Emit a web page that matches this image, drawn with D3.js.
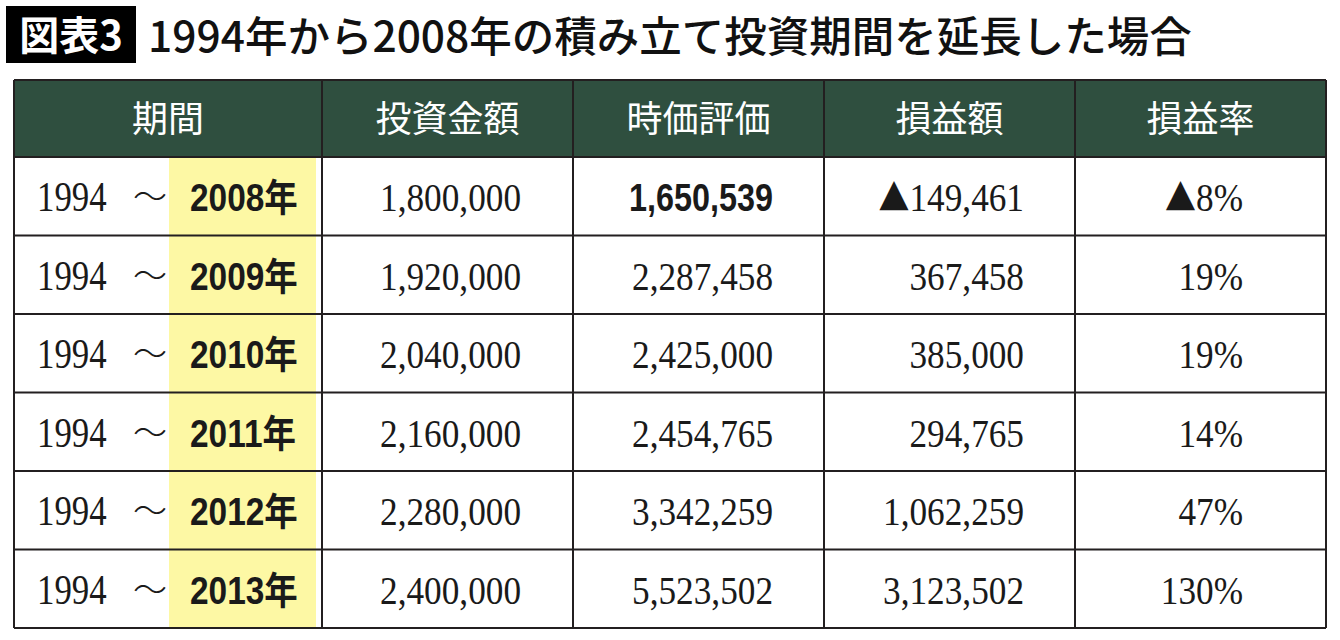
<!DOCTYPE html>
<html lang="ja">
  <head>
    <meta charset="UTF-8" />
    <title>図表3 積み立て投資期間を延長した場合</title>
    <script src="https://d3js.org/d3.v7.min.js" charset="utf-8"></script>
    <style>
      body { margin: 0; background: #fff; }
      svg { display: block; }
    </style>
  </head>
  <body>
    <svg class="chart"></svg>
    <script>
      // data
      let badge = "図表3";
      let title = "1994年から2008年の積み立て投資期間を延長した場合";
      let headers = ["期間", "投資金額", "時価評価", "損益額", "損益率"];
      let startYear = "1994";
      let endYears = ["2008年", "2009年", "2010年", "2011年", "2012年", "2013年"];
      let invested = [1800000, 1920000, 2040000, 2160000, 2280000, 2400000];
      let marketValue = [1650539, 2287458, 2425000, 2454765, 3342259, 5523502];
      let profit = [-149461, 367458, 385000, 294765, 1062259, 3123502];
      let profitRate = [-8, 19, 19, 14, 47, 130];

      let width = 1340;
      let height = 640;

      let svg = d3.select(".chart").attr("width", width).attr("height", height);

      // column edges and rows
      let colEdges = [14, 322, 573, 824, 1075, 1326];
      let colRight = [0, 521, 773, 1024, 1243];
      let headTop = 80;
      let headBottom = 157;
      let tableBottom = 628;

      let y = d3
        .scaleBand()
        .domain(d3.range(endYears.length))
        .range([headBottom, tableBottom]);

      let fmt = d3.format(",");

      let serif = "'Liberation Serif', 'Times New Roman', 'DejaVu Serif', serif";
      let sans = "'Liberation Sans', Arial, 'Noto Sans CJK JP', sans-serif";
      let cjk = "'Noto Sans CJK JP', 'Noto Sans', sans-serif";
      let squeeze = 0.86;

      // title
      svg.append("rect")
        .attr("x", 6).attr("y", 6)
        .attr("width", 130).attr("height", 57)
        .style("fill", "#000");

      svg.append("text")
        .attr("x", 71).attr("y", 50)
        .attr("text-anchor", "middle")
        .style("font-family", cjk)
        .style("font-weight", 700)
        .style("font-size", "40px")
        .style("fill", "#fff")
        .text(badge);

      svg.append("text")
        .attr("x", 148).attr("y", 52)
        .style("font-family", cjk)
        .style("font-weight", 500)
        .style("font-size", "42.5px")
        .style("fill", "#111")
        .text(title);

      // header background
      svg.append("rect")
        .attr("x", colEdges[0]).attr("y", headTop)
        .attr("width", colEdges[5] - colEdges[0])
        .attr("height", headBottom - headTop)
        .style("fill", "#2f4f3f");

      // yellow highlight under end years
      svg.append("rect")
        .attr("x", 169).attr("y", headBottom)
        .attr("width", 147)
        .attr("height", tableBottom - headBottom)
        .style("fill", "#fdf8a4");

      svg.selectAll("text.head")
        .data(headers)
        .enter()
        .append("text")
        .attr("class", "head")
        .attr("x", function(d, i) { return (colEdges[i] + colEdges[i + 1]) / 2; })
        .attr("y", (headTop + headBottom) / 2 + 13)
        .attr("text-anchor", "middle")
        .style("font-family", cjk)
        .style("font-weight", 400)
        .style("font-size", "36px")
        .style("fill", "#fff")
        .text(function(d) { return d; });

      // rows
      let row = svg.selectAll("g.row")
        .data(endYears)
        .enter()
        .append("g")
        .attr("class", "row")
        .attr("transform", function(d, i) {
          return "translate(0," + (y(i) + y.bandwidth() / 2) + ")";
        });

      function cell(sel, x, anchor, family, weight, size, value, suffix, sx) {
        let t = sel.append("text")
          .attr("transform", "translate(" + x + ",15) scale(" + (sx || squeeze) + ",1)")
          .attr("text-anchor", anchor)
          .style("font-family", family)
          .style("font-weight", weight)
          .style("font-size", size)
          .style("fill", "#1a1a1a");
        if (typeof value === "number") {
          if (value < 0) {
            t.append("tspan").style("font-family", cjk).style("font-size", "36px").text("▲");
          }
          t.append("tspan").text(fmt(Math.abs(value)) + (suffix || ""));
        } else {
          t.text(value);
        }
      }

      row.each(function(d, i) {
        let g = d3.select(this);
        cell(g, 37, "start", serif, 400, "42px", startYear, "", 0.83);
        g.append("text")
          .attr("x", 150).attr("y", 13)
          .attr("text-anchor", "middle")
          .style("font-family", cjk)
          .style("font-weight", 300)
          .style("font-size", "34px")
          .style("fill", "#1a1a1a")
          .text("〜");
        cell(g, 190, "start", sans, 700, "38px", d, "", 0.88);
        cell(g, colRight[1], "end", serif, 400, "41px", invested[i]);
        if (i === 0) {
          cell(g, colRight[2], "end", sans, 700, "39px", marketValue[i], "", 0.83);
        } else {
          cell(g, colRight[2], "end", serif, 400, "41px", marketValue[i]);
        }
        cell(g, colRight[3], "end", serif, 400, "41px", profit[i]);
        cell(g, colRight[4], "end", serif, 400, "41px", profitRate[i], "%");
      });

      // grid lines
      let lineColor = "#231f20";
      svg.selectAll("line.h")
        .data([headTop, headBottom].concat(d3.range(1, endYears.length).map(function(i) { return y(i); }), [tableBottom]))
        .enter()
        .append("line")
        .attr("class", "h")
        .attr("x1", colEdges[0]).attr("x2", colEdges[5])
        .attr("y1", function(d) { return d; })
        .attr("y2", function(d) { return d; })
        .style("stroke", lineColor)
        .style("stroke-width", 2);

      svg.selectAll("line.v")
        .data(colEdges)
        .enter()
        .append("line")
        .attr("class", "v")
        .attr("x1", function(d) { return d; })
        .attr("x2", function(d) { return d; })
        .attr("y1", headTop).attr("y2", tableBottom)
        .style("stroke", lineColor)
        .style("stroke-width", 2);
    </script>
  </body>
</html>
